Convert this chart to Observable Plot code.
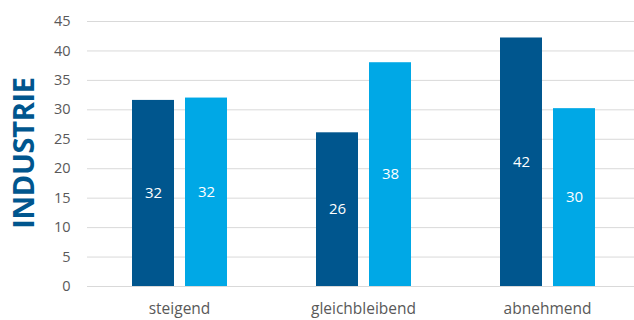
<!DOCTYPE html>
<html>
<head>
<meta charset="utf-8">
<script src="https://cdn.jsdelivr.net/npm/d3@7"></script>
<script src="https://cdn.jsdelivr.net/npm/@observablehq/plot@0.6"></script>
<style>
  html, body { margin: 0; padding: 0; background: #fff; overflow: hidden; }
  #wrap { position: relative; width: 634px; height: 320px; }
  #title {
    position: absolute; left: 22px; top: 153px;
    transform: translate(-50%, -50%) rotate(-90deg);
    font-family: "Open Sans", sans-serif; font-weight: 700; font-size: 29px;
    color: #00568e; white-space: nowrap; letter-spacing: -0.3px;
  }
</style>
</head>
<body>
<div id="wrap"><div id="title">INDUSTRIE</div></div>
<script>
const categories = ["steigend", "gleichbleibend", "abnehmend"];
const seriesNames = ["A", "B"];
const seriesA = [31.6, 26.1, 42.2];
const seriesB = [32.0, 38.0, 30.2];
const labelsA = ["32", "26", "42"];
const labelsB = ["32", "38", "30"];
const yTicks = [0, 5, 10, 15, 20, 25, 30, 35, 40, 45];
const colors = ["#00568e", "#00a8e6"];

const rows = [];
categories.forEach((c, i) => {
  rows.push({cat: c, series: "A", value: seriesA[i], label: labelsA[i]});
  rows.push({cat: c, series: "B", value: seriesB[i], label: labelsB[i]});
});

const font = "'Open Sans', sans-serif";
const chart = Plot.plot({
  width: 634,
  height: 320,
  marginLeft: 86,
  marginRight: 0,
  marginTop: 21,
  marginBottom: 34,
  style: {fontFamily: font, fontSize: "14px", color: "#595959", background: "transparent", overflow: "visible"},
  fx: {domain: categories, range: [86, 640], padding: 0, label: null},
  x: {domain: seriesNames, paddingInner: 0.21, paddingOuter: 0.84, axis: null},
  y: {domain: [0, 45], ticks: yTicks, label: null},
  color: {domain: seriesNames, range: colors},
  marks: [
    Plot.gridY(yTicks, {stroke: "#d9d9d9", strokeOpacity: 1, strokeWidth: 1}),
    Plot.axisY(yTicks, {tickSize: 0, tickPadding: 17, label: null, fontSize: 14.5, tickFormat: d => String(d)}),
    Plot.axisFx({anchor: "bottom", tickSize: 0, tickPadding: 16, label: null, fontSize: 15.5}),
    Plot.barY(rows, {fx: "cat", x: "series", y: "value", fill: "series"}),
    Plot.text(rows, {fx: "cat", x: "series", y: d => d.value / 2, text: "label", fill: "white", fontSize: 15})
  ]
});
document.getElementById("wrap").appendChild(chart);
chart.style.position = "absolute";
chart.style.left = "0";
chart.style.top = "0";
</script>
</body>
</html>
